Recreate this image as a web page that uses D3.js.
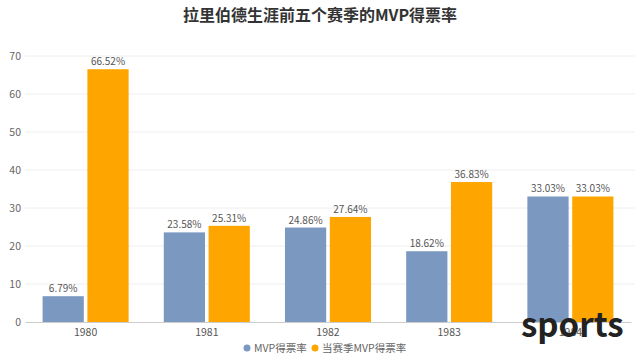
<!DOCTYPE html>
<html><head><meta charset="utf-8">
<script src="https://cdn.jsdelivr.net/npm/d3@7/dist/d3.min.js"></script>
<style>body{margin:0;background:#fff;} text{font-family:"Noto Sans CJK SC","Noto Sans",sans-serif;}</style>
</head><body>
<svg id="c" width="640" height="358"></svg>
<script>
const categories = ["1980","1981","1982","1983","1984"];
const seriesNames = ["MVP得票率","当赛季MVP得票率"];
const mvpShare = [6.79, 23.58, 24.86, 18.62, 33.03];
const seasonMvpShare = [66.52, 25.31, 27.64, 36.83, 33.03];
const yTicks = [0,10,20,30,40,50,60,70];
const colors = ["#7b98c0","#ffa500"];
const seriesValues = [mvpShare, seasonMvpShare];

const svg = d3.select("#c");
const mLeft = 25, mRight = 631, mTop = 56, mBottom = 322;
const y = d3.scaleLinear().domain([0,70]).range([mBottom, mTop]);
const x0 = d3.scaleBand().domain(categories).range([mLeft, mRight]).padding(0);
const bw = x0.bandwidth();
const x1 = d3.scaleBand().domain(seriesNames).range([bw*0.145, bw*0.855]).paddingInner(0.08);

svg.append("text").attr("x",320).attr("y",21).attr("text-anchor","middle")
  .attr("font-size",16).attr("font-weight","bold").attr("fill","#333").text("拉里伯德生涯前五个赛季的MVP得票率");

// grid
svg.append("g").selectAll("line").data(yTicks.filter(d=>d>0)).join("line")
  .attr("x1",mLeft).attr("x2",mRight+4).attr("y1",d=>y(d)).attr("y2",d=>y(d))
  .attr("stroke","#eeeeee").attr("stroke-width",1);

const yAxis = svg.append("g").attr("transform",`translate(${mLeft},0)`)
  .call(d3.axisLeft(y).tickValues(yTicks).tickSize(0).tickPadding(4));
yAxis.select(".domain").remove();
yAxis.selectAll("text").attr("fill","#666").attr("font-size",10.5).attr("font-family","'Noto Sans',sans-serif");

const bars = svg.append("g");
seriesNames.forEach((s,si)=>{
  categories.forEach((c,i)=>{
    const v = seriesValues[si][i];
    const bx = x0(c)+x1(s);
    bars.append("rect").attr("x",bx).attr("y",y(v)).attr("width",x1.bandwidth())
      .attr("height",y(0)-y(v)).attr("fill",colors[si]);
    bars.append("text").attr("x",bx+x1.bandwidth()/2).attr("y",y(v)-4)
      .attr("text-anchor","middle").attr("font-size",10).attr("fill","#555")
      .attr("font-family","'Noto Sans',sans-serif").text(v.toFixed(2)+"%");
  });
});

const xAxis = svg.append("g").attr("transform",`translate(0,${mBottom})`)
  .call(d3.axisBottom(x0).tickSize(0).tickPadding(7));
xAxis.select(".domain").attr("stroke","#ccc");
xAxis.selectAll("text").attr("fill","#555").attr("font-size",10.5).attr("font-family","'Noto Sans',sans-serif");

// legend
const leg = svg.append("g").attr("transform","translate(0,348)");
const legX = [247, 315];
seriesNames.forEach((s,i)=>{
  leg.append("circle").attr("cx",legX[i]).attr("cy",0).attr("r",3.5).attr("fill",colors[i]);
  leg.append("text").attr("x",legX[i]+7).attr("y",4).attr("font-size",10.5).attr("fill","#666").text(s);
});

// watermark
svg.append("text").attr("x",521).attr("y",337).attr("font-size",33).attr("font-weight","bold")
  .attr("fill","#222").attr("font-family","'DejaVu Sans',sans-serif").text("sports");
</script>
</body></html>
